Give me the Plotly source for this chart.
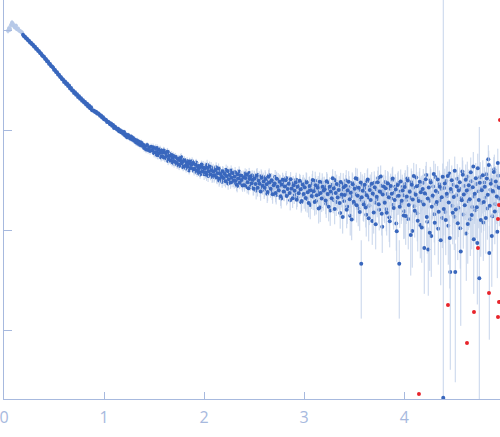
import plotly.graph_objects as go

# ---- excluded low-q points (drawn pale) ----
q_excl = [0.04, 0.05, 0.06, 0.07, 0.08, 0.09, 0.10, 0.11, 0.12, 0.13, 0.14, 0.15, 0.16, 0.17, 0.18]
i_excl = [985, 1040, 1010, 1120, 1180, 1150, 1090, 1060, 1100, 1020, 1035, 990, 975, 960, 945]
e_excl = [60, 70, 50, 90, 80, 70, 60, 50, 60, 40, 40, 30, 30, 25, 25]

# ---- main scattering curve (grid points) ----
q_main = [
    0.19, 0.20, 0.21, 0.22, 0.23, 0.24, 0.25, 0.26, 0.27, 0.28,
    0.29, 0.30, 0.31, 0.32, 0.33, 0.34, 0.35, 0.36, 0.37, 0.38,
    0.39, 0.40, 0.41, 0.42, 0.43, 0.44, 0.45, 0.46, 0.47, 0.48,
    0.49, 0.50, 0.51, 0.52, 0.53, 0.54, 0.55, 0.56, 0.57, 0.58,
    0.59, 0.60, 0.61, 0.62, 0.63, 0.64, 0.65, 0.66, 0.67, 0.68,
    0.69, 0.70, 0.71, 0.72, 0.73, 0.74, 0.75, 0.76, 0.77, 0.78,
    0.79, 0.80, 0.81, 0.82, 0.83, 0.84, 0.85, 0.86, 0.87, 0.88,
    0.89, 0.90, 0.91, 0.92, 0.93, 0.94, 0.95, 0.96, 0.97, 0.98,
    0.99, 1.00, 1.01, 1.02, 1.03, 1.04, 1.05, 1.06, 1.07, 1.08,
    1.09, 1.10, 1.11, 1.12, 1.13, 1.14, 1.15, 1.16, 1.17, 1.18,
    1.19, 1.20, 1.21, 1.22, 1.23, 1.24, 1.25, 1.26, 1.27, 1.28,
    1.29, 1.30, 1.31, 1.32, 1.33, 1.34, 1.35, 1.36, 1.37, 1.38,
    1.39, 1.40, 1.41, 1.42, 1.43, 1.44, 1.45, 1.46, 1.47, 1.48,
    1.49, 1.50, 1.51, 1.52, 1.53, 1.54, 1.55, 1.56, 1.57, 1.58,
    1.59, 1.60, 1.61, 1.62, 1.63, 1.64, 1.65, 1.66, 1.67, 1.68,
    1.69, 1.70, 1.71, 1.72, 1.73, 1.74, 1.75, 1.76, 1.77, 1.78,
    1.79, 1.80, 1.81, 1.82, 1.83, 1.84, 1.85, 1.86, 1.87, 1.88,
    1.89, 1.90, 1.91, 1.92, 1.93, 1.94, 1.95, 1.96, 1.97, 1.98,
    1.99, 2.00, 2.01, 2.02, 2.03, 2.04, 2.05, 2.06, 2.07, 2.08,
    2.09, 2.10, 2.11, 2.12, 2.13, 2.14, 2.15, 2.16, 2.17, 2.18,
    2.19, 2.20, 2.21, 2.22, 2.23, 2.24, 2.25, 2.26, 2.27, 2.28,
    2.29, 2.30, 2.31, 2.32, 2.33, 2.34, 2.35, 2.36, 2.37, 2.38,
    2.39, 2.40, 2.41, 2.42, 2.43, 2.44, 2.45, 2.46, 2.47, 2.48,
    2.49, 2.50, 2.51, 2.52, 2.53, 2.54, 2.55, 2.56, 2.57, 2.58,
    2.59, 2.60, 2.61, 2.62, 2.63, 2.64, 2.65, 2.66, 2.67, 2.68,
    2.69, 2.70, 2.71, 2.72, 2.73, 2.74, 2.75, 2.76, 2.77, 2.78,
    2.79, 2.80, 2.81, 2.82, 2.83, 2.84, 2.85, 2.86, 2.87, 2.88,
    2.89, 2.90, 2.91, 2.92, 2.93, 2.94, 2.95, 2.96, 2.97, 2.98,
    2.99, 3.00, 3.01, 3.02, 3.03, 3.04, 3.05, 3.06, 3.07, 3.08,
    3.09, 3.10, 3.11, 3.12, 3.13, 3.14, 3.15, 3.16, 3.17, 3.18,
    3.19, 3.20, 3.21, 3.22, 3.23, 3.24, 3.25, 3.26, 3.27, 3.28,
    3.29, 3.30, 3.31, 3.32, 3.33, 3.34, 3.35, 3.36, 3.37, 3.38,
    3.39, 3.40, 3.41, 3.42, 3.43, 3.44, 3.45, 3.46, 3.47, 3.48,
    3.49, 3.50, 3.51, 3.52, 3.53, 3.54, 3.55, 3.56, 3.57, 3.58,
    3.59, 3.60, 3.61, 3.62, 3.63, 3.64, 3.65, 3.66, 3.67, 3.68,
    3.69, 3.70, 3.71, 3.72, 3.73, 3.74, 3.75, 3.76, 3.77, 3.78,
    3.79, 3.80, 3.81, 3.82, 3.83, 3.84, 3.85, 3.86, 3.87, 3.88,
    3.89, 3.90, 3.91, 3.92, 3.93, 3.94, 3.95, 3.96, 3.97, 3.98,
    3.99, 4.00, 4.01, 4.02, 4.03, 4.04, 4.05, 4.06, 4.07, 4.08,
    4.09, 4.10, 4.11, 4.12, 4.13, 4.14, 4.15, 4.16, 4.17, 4.18,
    4.19, 4.20, 4.21, 4.22, 4.23, 4.24, 4.25, 4.26, 4.27, 4.28,
    4.29, 4.30, 4.31, 4.32, 4.33, 4.34, 4.35, 4.36, 4.37, 4.38,
    4.39, 4.40, 4.41, 4.42, 4.43, 4.44, 4.45, 4.46, 4.47, 4.48,
    4.49, 4.50, 4.51, 4.52, 4.53, 4.54, 4.55, 4.56, 4.57, 4.58,
    4.59, 4.60, 4.61, 4.62, 4.63, 4.64, 4.65, 4.66, 4.67, 4.68,
    4.69, 4.70, 4.71, 4.72, 4.73, 4.74, 4.75, 4.76, 4.77, 4.78,
    4.79, 4.80, 4.81, 4.82, 4.83, 4.84, 4.85, 4.86, 4.87, 4.88,
    4.89, 4.90, 4.91, 4.92, 4.93, 4.94, 4.95,
]
i_main = [
    896, 865, 858, 826, 818, 789, 781, 752, 747, 719,
    712, 684, 679, 651, 645, 619, 612, 588, 583, 560,
    546, 541, 515, 511, 487, 484, 461, 458, 436, 432,
    421, 401, 399, 380, 377, 359, 357, 340, 337, 322,
    319, 302, 306, 288, 291, 275, 278, 260, 263, 249,
    249, 235, 238, 225, 228, 214, 217, 205, 208, 196,
    198, 188, 190, 180, 183, 172, 176, 165, 169, 158,
    157, 156, 151, 152, 146, 147, 144, 139, 140, 133,
    134, 128, 127, 126, 120, 121, 119, 114, 116, 110,
    112, 105, 108, 104, 101, 103, 97.0, 99.5, 95.0, 96.8,
    91.5, 95.3, 88.0, 90.2, 84.6, 89.1, 86.8, 82.0, 85.9, 80.4,
    83.2, 78.0, 80.1, 74.9, 78.6, 73.0, 76.4, 70.6, 75.1, 69.5,
    71.8, 66.2, 68.5, 64.0, 70.6, 63.1, 66.9, 61.8, 68.0, 62.7,
    67.2, 58.4, 64.9, 57.0, 66.1, 55.8, 62.4, 63.9, 53.2, 60.7,
    54.0, 61.9, 52.3, 59.8, 57.6, 48.9, 58.2, 50.1, 55.9, 47.5,
    55.4, 46.2, 54.1, 52.3, 44.8, 51.9, 43.6, 50.5, 53.8, 44.1,
    42.5, 50.3, 47.8, 41.2, 49.0, 46.1, 39.4, 47.5, 42.0, 48.8,
    45.9, 38.6, 44.7, 47.2, 37.4, 43.9, 40.1, 35.8, 44.2, 41.5,
    43.6, 36.2, 42.8, 38.1, 44.9, 34.7, 40.6, 37.3, 42.5, 33.9,
    40.8, 34.1, 39.5, 42.3, 33.0, 37.9, 31.2, 38.8, 36.1, 30.4,
    38.2, 31.6, 36.9, 40.1, 33.8, 29.2, 37.4, 34.9, 39.3, 30.8,
    35.7, 29.9, 37.8, 32.1, 27.6, 35.3, 38.4, 30.2, 33.9, 28.8,
    34.8, 29.5, 36.7, 31.3, 26.9, 33.8, 37.1, 28.4, 32.6, 35.0,
    27.1, 33.4, 30.8, 24.9, 35.6, 29.7, 32.9, 26.3, 34.4, 28.1,
    31.9, 25.2, 33.7, 29.4, 23.1, 30.6, 35.2, 27.0, 31.2, 24.6,
    30.8, 26.1, 33.9, 22.4, 28.7, 31.5, 24.8, 29.9, 20.6, 27.4,
    30.2, 24.0, 27.8, 33.1, 22.6, 26.9, 29.5, 19.8, 28.3, 25.1,
    29.4, 22.7, 26.5, 31.8, 21.3, 27.6, 24.2, 30.1, 18.9, 25.8,
    28.7, 22.1, 26.0, 30.5, 20.4, 24.9, 27.3, 17.8, 23.6, 29.2,
    21.5, 25.7, 31.0, 19.6, 24.3, 27.9, 22.8, 16.9, 26.2, 29.8,
    21.2, 27.4, 24.0, 18.3, 29.6, 22.5, 25.9, 15.7, 23.1, 28.4,
    20.1, 26.6, 31.5, 19.0, 24.7, 22.0, 27.8, 14.8, 25.2, 21.4,
    28.9, 19.5, 24.4, 31.2, 17.2, 23.0, 26.8, 13.9, 21.7, 29.5,
    24.1, 18.4, 27.0, 22.6, 32.4, 16.5, 25.3, 20.2, 4.6, 28.1,
    19.0, 26.3, 23.5, 14.2, 30.8, 21.1, 17.6, 27.4, 24.8, 12.3,
    22.7, 29.6, 18.8, 25.5, 20.4, 33.1, 15.9, 23.9, 27.7, 10.8,
    24.6, 19.3, 30.2, 16.1, 22.9, 28.5, 13.4, 25.8, 20.7, 31.6,
    17.9, 23.6, 27.1, 11.6, 21.8, 29.3, 4.6, 24.2, 18.5, 26.9,
    22.3, 15.4, 28.8, 19.9, 32.7, 12.9, 24.5, 21.0, 30.1, 9.8,
    26.4, 17.3, 23.2, 33.5, 14.7, 20.6, 27.9, 11.2, 25.1, 19.2,
    29.7, 6.6, 22.8, 35.4, 12.1, 6.4, 19.6, 31.3, 8.7, 21.5,
    27.2, 14.4, 33.8, 18.1, 23.7, 10.3, 28.6, 20.0, 25.8, 13.2,
    0.21, 26.3, 15.1, 30.9, 21.9, 11.0, 36.8, 3.8, 24.1, 17.5,
    28.4, 13.6, 3.8, 22.2, 32.6, 16.7, 26.0, 10.4, 20.8, 38.5,
    14.3, 27.5, 23.3, 9.2, 34.1, 19.4, 25.6, 12.8, 30.7, 17.0,
    43.2, 21.6, 15.8, 28.9, 7.4, 24.4, 3.3, 33.7, 18.6, 26.2,
    11.9, 29.8, 21.0, 36.2, 16.4, 51.0, 5.9, 25.3, 31.4, 13.7,
    23.9, 40.5, 18.2, 27.6, 9.6, 34.8, 20.7,
]
e_main = [
    9, 9, 8, 8, 8, 8, 8, 8, 7, 7,
    7, 7, 7, 7, 6, 6, 6, 6, 6, 6,
    6, 6, 6, 6, 6, 6, 5, 5, 5, 5,
    6, 6, 6, 6, 5, 5, 5, 5, 5, 5,
    6, 6, 6, 6, 6, 6, 5, 5, 5, 5,
    6, 6, 6, 6, 5, 5, 5, 5, 5, 5,
    6, 6, 6, 5, 5, 5, 5, 5, 5, 5,
    5.5, 5.4, 5.3, 5.2, 5.1, 5.0, 5.0, 4.9, 4.8, 4.7,
    5.3, 5.2, 5.1, 5.0, 4.9, 4.8, 4.7, 4.6, 4.6, 4.5,
    5.5, 5.4, 5.3, 5.2, 5.2, 5.1, 5.0, 4.9, 4.8, 4.8,
    5.6, 5.5, 5.4, 5.4, 5.3, 5.2, 5.2, 5.1, 5.0, 4.9,
    5.7, 5.6, 5.5, 5.4, 5.3, 5.3, 5.2, 5.1, 5.0, 4.9,
    5.5, 5.5, 5.4, 5.4, 5.3, 5.3, 5.2, 5.2, 5.1, 5.1,
    6.0, 5.3, 5.8, 5.1, 5.9, 5.0, 5.6, 5.8, 4.8, 5.5,
    4.9, 5.6, 4.7, 5.4, 5.2, 4.4, 5.2, 4.5, 5.0, 4.3,
    5.0, 4.2, 4.9, 4.7, 4.0, 4.7, 3.9, 4.5, 4.8, 4.0,
    3.8, 4.5, 4.3, 3.7, 4.4, 4.1, 3.5, 4.3, 3.8, 4.4,
    4.1, 3.5, 4.0, 4.2, 3.4, 4.0, 3.6, 3.2, 4.0, 3.7,
    5.4, 4.6, 5.3, 4.8, 5.5, 4.5, 5.1, 4.7, 5.3, 4.4,
    5.1, 4.4, 5.0, 5.2, 4.3, 4.8, 4.1, 4.9, 4.6, 4.0,
    4.8, 4.2, 4.7, 5.0, 4.4, 3.9, 4.7, 4.5, 4.9, 4.1,
    4.6, 4.0, 4.8, 4.2, 3.8, 4.5, 4.8, 4.0, 4.4, 3.9,
    4.5, 4.0, 4.7, 4.1, 3.7, 4.4, 4.7, 3.8, 4.3, 4.5,
    5.0, 5.8, 5.5, 4.7, 6.1, 5.4, 5.8, 4.9, 6.0, 5.2,
    5.6, 4.8, 5.9, 5.3, 4.5, 5.5, 6.1, 5.0, 5.6, 4.7,
    5.5, 4.9, 5.9, 4.4, 5.2, 5.6, 4.7, 5.4, 4.2, 5.1,
    5.4, 4.6, 5.1, 5.8, 4.4, 5.0, 5.3, 4.1, 5.2, 4.8,
    5.3, 4.5, 4.9, 5.6, 4.3, 5.1, 4.6, 5.4, 4.0, 4.9,
    6.9, 5.8, 6.4, 7.2, 5.5, 6.2, 6.6, 5.0, 6.0, 7.0,
    5.7, 6.4, 7.3, 5.3, 6.1, 6.7, 5.9, 4.9, 6.5, 7.1,
    5.6, 6.7, 6.1, 5.1, 7.0, 5.8, 6.4, 4.7, 5.9, 6.8,
    5.4, 6.5, 7.4, 5.2, 6.2, 5.7, 6.7, 4.5, 6.3, 5.6,
    8.1, 6.2, 7.2, 8.5, 5.7, 6.9, 7.7, 5.1, 6.6, 8.2,
    7.1, 6.0, 7.7, 6.8, 8.8, 5.6, 7.4, 6.3, 3.3, 7.9,
    6.7, 8.3, 7.7, 5.6, 9.3, 7.1, 6.4, 8.5, 8.0, 5.2,
    7.5, 9.0, 6.6, 8.1, 7.0, 9.8, 6.0, 7.8, 8.6, 4.9,
    8.4, 7.1, 9.6, 6.4, 8.0, 9.3, 5.8, 8.6, 7.5, 10.0,
    6.8, 8.1, 8.9, 5.4, 7.7, 9.4, 3.3, 8.3, 7.0, 8.9,
    9.0, 7.2, 10.8, 8.4, 11.8, 6.5, 9.6, 8.7, 11.1, 5.6,
    10.1, 7.7, 9.3, 12.0, 7.0, 8.6, 10.5, 6.0, 9.8, 8.2,
    11.0, 4.3, 9.2, 12.6, 6.3, 4.2, 8.3, 11.5, 5.3, 8.8,
    10.3, 6.9, 12.1, 7.9, 9.4, 5.8, 10.7, 8.4, 10.0, 6.6,
    2100, 11.1, 7.7, 12.5, 9.8, 6.5, 14.2, 3.4, 10.4, 8.5,
    11.7, 7.3, 3.5, 9.9, 13.0, 8.2, 11.0, 6.3, 9.4, 14.8,
    7.8, 12.0, 10.7, 6.1, 14.1, 9.4, 11.4, 7.3, 13.0, 8.6,
    17.0, 10.1, 8.3, 12.4, 5.6, 11.0, 104, 14.0, 9.2, 11.6,
    7.0, 12.7, 9.9, 14.8, 8.4, 19.5, 5.1, 11.3, 13.2, 7.6,
    10.8, 16.2, 9.0, 12.0, 6.3, 14.3, 9.8,
]

# ---- main scattering curve (half-step points, q >= 1.5) ----
q_half = [
    1.505, 1.515, 1.525, 1.535, 1.545, 1.555, 1.565, 1.575, 1.585, 1.595,
    1.605, 1.615, 1.625, 1.635, 1.645, 1.655, 1.665, 1.675, 1.685, 1.695,
    1.705, 1.715, 1.725, 1.735, 1.745, 1.755, 1.765, 1.775, 1.785, 1.795,
    1.805, 1.815, 1.825, 1.835, 1.845, 1.855, 1.865, 1.875, 1.885, 1.895,
    1.905, 1.915, 1.925, 1.935, 1.945, 1.955, 1.965, 1.975, 1.985, 1.995,
    2.005, 2.015, 2.025, 2.035, 2.045, 2.055, 2.065, 2.075, 2.085, 2.095,
    2.105, 2.115, 2.125, 2.135, 2.145, 2.155, 2.165, 2.175, 2.185, 2.195,
    2.205, 2.215, 2.225, 2.235, 2.245, 2.255, 2.265, 2.275, 2.285, 2.295,
    2.305, 2.315, 2.325, 2.335, 2.345, 2.355, 2.365, 2.375, 2.385, 2.395,
    2.405, 2.415, 2.425, 2.435, 2.445, 2.455, 2.465, 2.475, 2.485, 2.495,
    2.505, 2.515, 2.525, 2.535, 2.545, 2.555, 2.565, 2.575, 2.585, 2.595,
    2.605, 2.615, 2.625, 2.635, 2.645, 2.655, 2.665, 2.675, 2.685, 2.695,
    2.705, 2.715, 2.725, 2.735, 2.745, 2.755, 2.765, 2.775, 2.785, 2.795,
    2.805, 2.815, 2.825, 2.835, 2.845, 2.855, 2.865, 2.875, 2.885, 2.895,
    2.905, 2.915, 2.925, 2.935, 2.945, 2.955, 2.965, 2.975, 2.985, 2.995,
    3.005, 3.015, 3.025, 3.035, 3.045, 3.055, 3.065, 3.075, 3.085, 3.095,
    3.105, 3.115, 3.125, 3.135, 3.145, 3.155, 3.165, 3.175, 3.185, 3.195,
    3.205, 3.215, 3.225, 3.235, 3.245, 3.255, 3.265, 3.275, 3.285, 3.295,
    3.305, 3.315, 3.325, 3.335, 3.345, 3.355, 3.365, 3.375, 3.385, 3.395,
    3.405, 3.415, 3.425, 3.435, 3.445, 3.455, 3.465, 3.475, 3.485, 3.495,
    3.505, 3.515, 3.525, 3.535, 3.545, 3.555, 3.565, 3.575, 3.585, 3.595,
    3.605, 3.615, 3.625, 3.635, 3.645, 3.655, 3.665, 3.675, 3.685, 3.695,
    3.705, 3.715, 3.725, 3.735, 3.745, 3.755, 3.765, 3.775, 3.785, 3.795,
    3.805, 3.815, 3.825, 3.835, 3.845, 3.855, 3.865, 3.875, 3.885, 3.895,
    3.905, 3.915, 3.925, 3.935, 3.945, 3.955, 3.965, 3.975, 3.985, 3.995,
    4.005, 4.015, 4.025, 4.035, 4.045, 4.055, 4.065, 4.075, 4.085, 4.095,
    4.105, 4.115, 4.125, 4.135, 4.145, 4.155, 4.165, 4.175, 4.185, 4.195,
    4.205, 4.215, 4.225, 4.235, 4.245, 4.255, 4.265, 4.275, 4.285, 4.295,
    4.305, 4.315, 4.325, 4.335, 4.345, 4.355, 4.365, 4.375, 4.385, 4.395,
    4.405, 4.415, 4.425, 4.435, 4.445, 4.455, 4.465, 4.475, 4.485, 4.495,
    4.505, 4.515, 4.525, 4.535, 4.545, 4.555, 4.565, 4.575, 4.585, 4.595,
    4.605, 4.615, 4.625, 4.635, 4.645, 4.655, 4.665, 4.675, 4.685, 4.695,
    4.705, 4.715, 4.725, 4.735, 4.745, 4.755, 4.765, 4.775, 4.785, 4.795,
    4.805, 4.815, 4.825, 4.835, 4.845, 4.855, 4.865, 4.875, 4.885, 4.895,
    4.905, 4.915, 4.925, 4.935, 4.945,
]
i_half = [
    59.9, 65.8, 60.3, 56.1, 63.7, 58.8, 61.5, 54.6, 59.2, 62.3,
    53.1, 58.9, 55.0, 60.7, 51.4, 54.8, 49.6, 56.3, 52.8, 49.0,
    48.1, 53.6, 47.0, 51.2, 45.3, 49.9, 52.6, 46.4, 48.7, 43.2,
    49.5, 44.0, 47.3, 42.8, 45.6, 48.4, 41.7, 44.9, 46.9, 40.6,
    41.0, 44.8, 39.2, 43.5, 40.7, 37.9, 42.6, 45.3, 38.5, 41.9,
    40.9, 37.5, 35.6, 41.8, 38.7, 43.1, 36.0, 39.6, 34.8, 38.3,
    35.2, 39.8, 33.7, 37.0, 41.2, 32.5, 36.4, 34.0, 38.6, 33.1,
    36.3, 30.7, 34.6, 38.9, 32.2, 35.5, 29.8, 33.4, 37.1, 31.0,
    34.1, 30.9, 28.3, 36.2, 32.8, 29.6, 35.0, 31.7, 27.9, 33.6,
    28.0, 33.2, 35.9, 30.1, 26.2, 32.4, 34.5, 29.3, 31.8, 25.8,
    32.7, 28.9, 34.9, 26.5, 31.0, 29.0, 24.3, 33.3, 27.7, 30.5,
    26.4, 32.4, 28.6, 24.0, 34.0, 29.8, 25.9, 31.5, 22.8, 28.0,
    29.2, 23.5, 32.6, 27.1, 25.0, 30.4, 21.7, 28.5, 31.8, 24.2,
    27.3, 31.4, 21.9, 25.7, 29.0, 23.4, 32.2, 26.0, 20.8, 28.1,
    24.7, 29.8, 20.1, 27.0, 23.3, 31.0, 25.5, 19.5, 28.4, 22.9,
    26.8, 20.9, 29.9, 23.8, 18.6, 27.6, 25.0, 21.9, 31.7, 24.4,
    19.1, 28.0, 22.3, 26.4, 16.4, 30.4, 23.5, 20.6, 27.1, 24.8,
    25.6, 19.7, 30.8, 22.9, 17.1, 27.1, 24.2, 20.8, 32.9, 26.0,
    16.2, 23.4, 28.9, 21.1, 25.1, 18.6, 30.2, 22.7, 13.5, 26.7,
    22.4, 27.7, 15.9, 25.0, 30.3, 20.3, 23.6, 12.7, 28.6, 19.2,
    25.9, 33.0, 17.7, 22.0, 26.5, 15.1, 29.8, 21.2, 24.7, 18.0,
    28.4, 16.8, 22.2, 31.9, 13.1, 25.1, 19.9, 29.0, 23.2, 15.0,
    26.7, 11.4, 21.5, 30.1, 18.1, 24.3, 34.2, 14.5, 22.6, 27.2,
    18.7, 26.1, 14.9, 29.4, 21.3, 12.2, 27.6, 23.1, 32.8, 16.6,
    20.0, 25.4, 9.7, 28.2, 22.0, 17.1, 30.6, 19.6, 24.9, 14.0,
    26.9, 13.8, 21.6, 31.2, 17.8, 24.1, 8.9, 28.3, 20.2, 34.6,
    15.6, 22.5, 27.4, 12.4, 19.5, 30.4, 23.9, 10.6, 25.7, 18.0,
    23.3, 32.1, 13.5, 20.7, 26.6, 9.4, 29.9, 17.1, 22.1, 36.3,
    11.8, 24.6, 19.0, 31.9, 15.2, 27.0, 7.9, 21.2, 34.0, 16.2,
    29.1, 12.6, 23.0, 34.7, 18.8, 8.3, 25.7, 31.5, 14.9, 21.4,
    39.2, 16.0, 27.3, 11.7, 24.8, 30.0, 6.1, 19.8, 35.6, 22.7,
    17.7, 31.8, 24.9, 11.5, 28.1, 20.3, 37.8, 14.1, 26.8, 8.1,
    23.0, 33.0, 16.9, 41.5, 20.0, 29.6, 12.6, 25.0, 35.3, 19.1,
    27.1, 13.2, 32.8, 22.5, 44.6, 17.5, 29.0, 8.7, 24.6, 38.1,
    15.3, 30.6, 21.6, 46.8, 26.5,
]
e_half = [
    5.4, 5.9, 5.4, 5.0, 5.7, 5.3, 5.5, 4.9, 5.3, 5.6,
    4.8, 5.3, 5.0, 5.5, 4.6, 4.9, 4.5, 5.1, 4.8, 4.4,
    4.3, 4.8, 4.2, 4.6, 4.1, 4.5, 4.7, 4.2, 4.4, 3.9,
    4.5, 4.0, 4.3, 3.9, 4.1, 4.4, 3.8, 4.0, 4.2, 3.7,
    3.7, 4.0, 3.5, 3.9, 3.7, 3.4, 3.8, 4.1, 3.5, 3.8,
    5.1, 4.8, 4.6, 5.2, 4.9, 5.3, 4.6, 5.0, 4.5, 4.8,
    4.5, 5.0, 4.4, 4.7, 5.1, 4.3, 4.6, 4.4, 4.9, 4.3,
    4.6, 4.1, 4.5, 4.9, 4.2, 4.6, 4.0, 4.3, 4.7, 4.1,
    4.4, 4.1, 3.8, 4.6, 4.3, 4.0, 4.5, 4.2, 3.8, 4.4,
    3.8, 4.3, 4.6, 4.0, 3.6, 4.2, 4.5, 3.9, 4.2, 3.6,
    5.8, 5.3, 6.0, 4.9, 5.5, 5.3, 4.7, 5.8, 5.1, 5.5,
    4.9, 5.7, 5.2, 4.6, 5.9, 5.4, 4.9, 5.6, 4.5, 5.1,
    5.3, 4.6, 5.7, 5.0, 4.8, 5.5, 4.3, 5.2, 5.6, 4.6,
    5.0, 5.6, 4.3, 4.8, 5.3, 4.5, 5.7, 4.9, 4.2, 5.2,
    4.7, 5.4, 4.1, 5.0, 4.5, 5.5, 4.8, 4.0, 5.2, 4.5,
    6.6, 5.6, 7.1, 6.0, 5.2, 6.7, 6.3, 5.7, 7.4, 6.1,
    5.2, 6.8, 5.8, 6.5, 4.8, 7.2, 6.0, 5.5, 6.6, 6.2,
    6.4, 5.3, 7.2, 5.9, 4.9, 6.6, 6.1, 5.5, 7.6, 6.4,
    4.8, 6.0, 6.9, 5.6, 6.3, 5.2, 7.1, 5.9, 4.3, 6.5,
    6.8, 7.8, 5.5, 7.3, 8.4, 6.4, 7.0, 4.8, 8.0, 6.1,
    7.5, 8.9, 5.8, 6.7, 7.6, 5.3, 8.3, 6.5, 7.2, 5.9,
    8.7, 6.2, 7.4, 9.5, 5.4, 8.0, 6.9, 8.9, 7.6, 5.8,
    8.4, 5.0, 7.2, 9.1, 6.5, 7.8, 10.0, 5.7, 7.5, 8.5,
    7.0, 8.7, 6.1, 9.5, 7.6, 5.5, 9.0, 8.0, 10.2, 6.5,
    7.3, 8.5, 4.9, 9.2, 7.8, 6.6, 9.7, 7.2, 8.4, 5.9,
    10.3, 6.7, 8.8, 11.4, 7.8, 9.5, 5.4, 10.6, 8.5, 12.3,
    7.2, 9.1, 10.4, 6.3, 8.3, 11.2, 9.5, 5.9, 9.9, 7.9,
    9.3, 11.7, 6.6, 8.6, 10.2, 5.5, 11.1, 7.6, 9.0, 12.8,
    6.2, 9.6, 8.1, 11.6, 7.1, 10.3, 5.1, 8.7, 12.2, 7.4,
    11.9, 7.0, 10.1, 13.6, 8.8, 5.7, 10.9, 12.7, 7.7, 9.6,
    15.0, 8.0, 11.4, 6.7, 10.6, 12.2, 5.0, 9.1, 13.9, 10.0,
    8.9, 13.4, 11.2, 6.9, 12.2, 9.7, 15.3, 7.7, 11.8, 5.8,
    10.6, 13.8, 8.6, 16.5, 9.6, 12.7, 7.2, 11.2, 14.5, 9.3,
    11.9, 7.4, 13.7, 10.4, 17.5, 8.8, 12.5, 6.0, 11.1, 15.4,
    8.1, 13.0, 10.1, 18.2, 11.7,
]

# ---- flagged (outlier) points shown in red ----
q_flag = [4.147, 4.437, 4.627, 4.697, 4.737, 4.847, 4.937, 4.937, 4.947, 4.947, 4.957]
i_flag = [0.229, 1.78, 0.741, 1.51, 6.61, 2.34, 12.9, 1.35, 17.8, 1.91, 126]

x_ticks = [0, 1, 2, 3, 4]
y_ticks = [1, 10, 100, 1000]

AXIS = "#a7b9de"
BLUE = "#3967bd"
PALE = "#b7c9e8"
BAR = "#c6d4eb"
RED = "#e8242b"

fig = go.Figure()
fig.add_trace(go.Scatter(
    x=q_excl, y=i_excl, mode="markers",
    marker=dict(color=PALE, size=4),
    error_y=dict(type="data", array=e_excl, color=PALE, thickness=1, width=0),
    showlegend=False,
))
for qs, ys, es in ((q_main, i_main, e_main), (q_half, i_half, e_half)):
    fig.add_trace(go.Scatter(
        x=qs, y=ys, mode="markers",
        marker=dict(color=BLUE, size=4),
        error_y=dict(type="data", array=es, color=BAR, thickness=1, width=0),
        showlegend=False,
    ))
fig.add_trace(go.Scatter(
    x=q_flag, y=i_flag, mode="markers",
    marker=dict(color=RED, size=4),
    showlegend=False,
))

fig.update_layout(
    width=500, height=437,
    margin=dict(l=4, r=0, t=0, b=38),
    paper_bgcolor="white", plot_bgcolor="white",
    font=dict(family="Open Sans, sans-serif", color=AXIS),
    xaxis=dict(
        range=[0, 4.957], tickvals=x_ticks, ticktext=[str(v) for v in x_ticks],
        ticks="inside", ticklen=7, tickcolor=AXIS, tickwidth=1,
        showline=True, linecolor=AXIS, linewidth=1,
        showgrid=False, zeroline=False,
        tickfont=dict(size=16, color=AXIS),
        ticklabelstandoff=4, ticklabeloverflow="allow",
    ),
    yaxis=dict(
        type="log", range=[-0.69, 3.30], tickvals=y_ticks,
        showticklabels=False,
        ticks="inside", ticklen=8, tickcolor=AXIS, tickwidth=1,
        showline=True, linecolor=AXIS, linewidth=1,
        showgrid=False, zeroline=False,
    ),
)

fig.write_html(
    "out.html",
    config={"displayModeBar": False},
    post_script="document.body.style.margin='0px';document.body.style.overflow='hidden';",
)
